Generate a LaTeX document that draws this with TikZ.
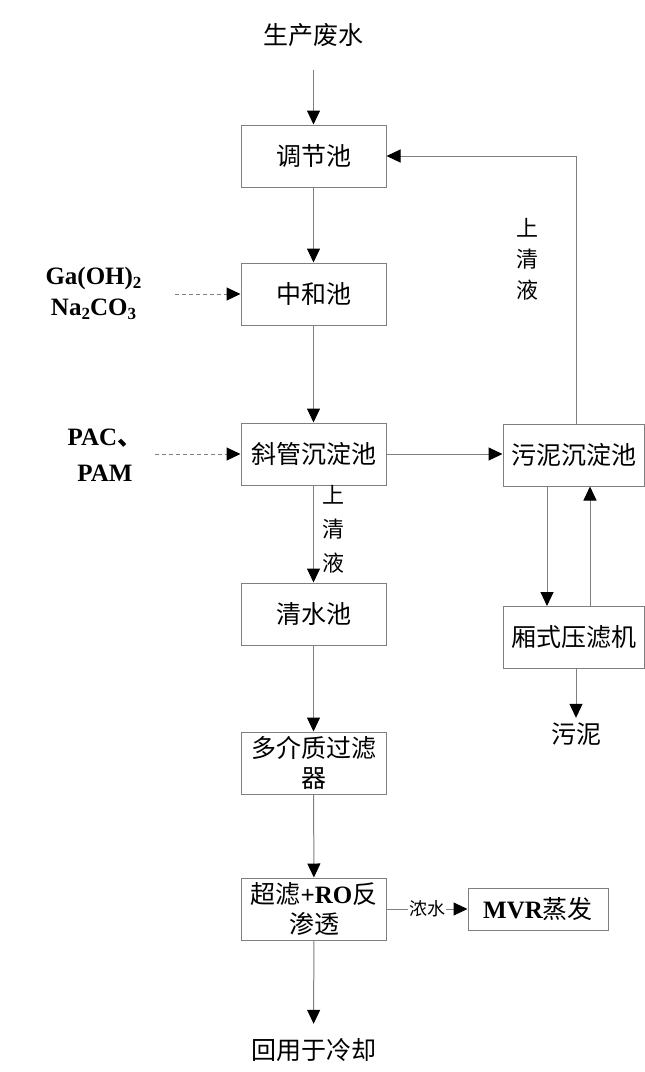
\documentclass[tikz,border=0pt]{standalone}
\usepackage{fontspec}
\setmainfont{Liberation Serif}
\newfontfamily\cjk{Noto Sans CJK SC}
\newfontfamily\lfont{Liberation Serif}
\usetikzlibrary{arrows.meta}
\newcommand{\lat}[1]{{\lfont\bfseries #1}}
\newcommand{\subn}[1]{\lower4pt\hbox{\fontsize{17}{17}\selectfont #1}}
\definecolor{lc}{HTML}{7F7F7F}
\tikzset{
  box/.style={draw=lc, line width=1pt, minimum width=145pt, minimum height=62pt, inner sep=0pt, align=center, font=\cjk\fontsize{25}{30}\selectfont},
  txt/.style={inner sep=0pt, align=center, font=\cjk\fontsize{25}{30}\selectfont},
  lbl/.style={inner sep=0pt, align=center, font=\cjk\fontsize{22}{31}\selectfont},
  arr/.style={draw=lc, line width=1pt, -{Triangle[length=14pt,width=13pt,color=black]}},
  darr/.style={arr, dashed, dash pattern=on 4pt off 3pt}
}
\begin{document}
\begin{tikzpicture}[x=1pt,y=-1pt]
\useasboundingbox (0,0) rectangle (645,1072);
% main boxes
\node[box] (tj) at (313.5,156) {调节池};
\node[box] (zh) at (313.5,294) {中和池};
\node[box] (xg) at (313.5,454) {斜管沉淀池};
\node[box] (qs) at (313.5,614) {清水池};
\node[box] (dj) at (313.5,763) {多介质过滤\\器};
\node[box] (ro) at (314,909) {超滤\lat{+RO}反\\渗透};
\node[box, minimum width=141pt] (wn) at (573.5,455) {污泥沉淀池};
\node[box, minimum width=141pt] (xs) at (573.5,637.5) {厢式压滤机};
\node[box, minimum width=140pt, minimum height=42pt] (mvr) at (538,909) {\lat{MVR}蒸发};
% free texts
\node[txt, minimum width=140pt, minimum height=70pt] (src) at (313.5,35) {生产废水};
\node[txt, minimum width=140pt, minimum height=52pt] (out) at (313.5,1050) {回用于冷却};
\node[txt, minimum width=60pt, minimum height=32pt] (sl) at (576,734) {污泥};
\node[inner sep=0pt, align=center, minimum width=163pt, font=\lfont\bfseries\fontsize{25}{31}\selectfont] (ga) at (93.5,293) {Ga(OH)\subn{2}\\Na\subn{2}CO\subn{3}};
\node[inner sep=0pt, align=center, minimum width=100pt, font=\lfont\bfseries\fontsize{25}{36}\selectfont] (pac) at (105,455) {PAC{\cjk 、}\\PAM};
% labels
\node[lbl] (sq1) at (527,259) {上\\清\\液};
\node[lbl, font=\cjk\fontsize{22}{34}\selectfont] (sq2) at (333,529) {上\\清\\液};
% connectors
\draw[arr] (src) -- (tj);
\draw[arr] (tj) -- (zh);
\draw[arr] (zh) -- (xg);
\draw[arr] (xg) -- (qs);
\draw[arr] (qs) -- (dj);
\draw[arr] (dj) -- (ro);
\draw[arr] (ro) -- (out);
\draw[darr] (ga.east |- zh) -- (zh.west);
\draw[darr] (pac.east |- xg) -- (xg.west);
\draw[arr] (xg.east) -- (wn.west |- xg.east);
\draw[arr] (wn.north -| 576,0) |- (tj.east);
\draw[arr] (wn.south -| 547,0) -- (xs.north -| 547,0);
\draw[arr] (xs.north -| 590,0) -- (wn.south -| 590,0);
\draw[arr] (xs.south -| 576,0) -- (sl.north);
\draw[arr] (ro.east) -- node[fill=white, inner sep=1pt, font=\cjk\fontsize{18}{18}\selectfont] (ns) {浓水} (mvr.west);
\end{tikzpicture}
\end{document}
